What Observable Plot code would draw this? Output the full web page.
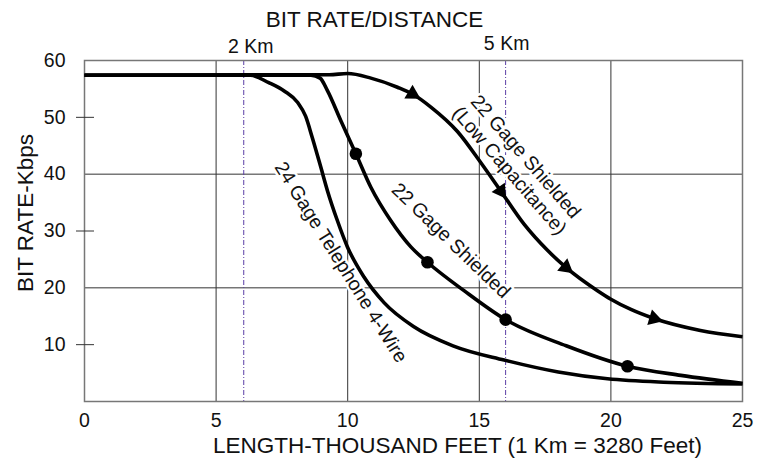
<!DOCTYPE html>
<html>
<head>
<meta charset="utf-8">
<script src="https://cdn.jsdelivr.net/npm/d3@7"></script>
<script src="https://cdn.jsdelivr.net/npm/@observablehq/plot@0.6"></script>
<style>
  html, body { margin: 0; padding: 0; background: white; }
</style>
</head>
<body>
<div id="chart"></div>
<script>
// ---- data ----
const xTicks = [0, 5, 10, 15, 20, 25];
const yTicks = [10, 20, 30, 40, 50, 60];
const yShortTicks = [10, 30, 50];
const gridXValues = [5, 10, 15, 20];
const gridYValues = [20, 40];
const kmLines = [6.05, 16.0];          // 2 Km and 5 Km markers (as drawn)

// 24 Gage Telephone 4-Wire
const telephoneX = [0, 6.3, 7.0, 7.6, 8.1, 8.4, 8.65, 8.98, 9.23, 9.61, 9.99, 10.62, 11.38, 12.5, 14.0, 15.94, 18.0, 19.87, 22.0, 25.0];
const telephoneY = [57.4, 57.4, 56.1, 54.6, 52.6, 50.2, 46.5, 41.2, 37.1, 31.8, 27.2, 21.9, 17.4, 13.2, 9.8, 7.3, 5.2, 4.0, 3.4, 3.1];

// 22 Gage Shielded
const shieldedX = [0, 8.6, 8.95, 9.23, 9.74, 10.31, 10.88, 11.64, 12.4, 13.03, 14.42, 16.0, 18.3, 20.63, 22.66, 25.0];
const shieldedY = [57.4, 57.4, 56.9, 54.7, 49.4, 43.6, 37.7, 31.8, 27.2, 24.5, 19.5, 14.4, 9.8, 6.2, 4.6, 3.2];
const shieldedDotX = [10.31, 13.03, 16.0, 20.63];
const shieldedDotY = [43.6, 24.5, 14.4, 6.2];

// 22 Gage Shielded (Low Capacitance)
const lowCapX = [0, 9.3, 10.0, 10.88, 11.89, 12.46, 13.16, 14.17, 15.06, 15.82, 16.7, 17.59, 18.29, 19.49, 20.0, 20.76, 21.64, 23.4, 25.0];
const lowCapY = [57.4, 57.5, 57.7, 56.9, 55.3, 54.1, 51.8, 47.5, 42.0, 37.0, 31.2, 26.6, 23.6, 19.5, 18.0, 16.2, 14.6, 12.5, 11.4];
const lowCapArrowX = [12.46, 15.82, 18.29, 21.64];
const lowCapArrowY = [54.1, 37.0, 23.6, 14.6];

const curveLabels = [
  {text: "24 Gage Telephone 4-Wire", x: 9.74, y: 24.5},
  {text: "22 Gage Shielded", x: 13.92, y: 28.3},
  {text: "22 Gage Shielded\n(Low Capacitance)", x: 16.47, y: 41.9}
];

// ---- layout ----
const W = 757, H = 459;
const mL = 84, mR = 15, mT = 60, mB = 58;
const font = "'Liberation Sans', Arial, Helvetica, sans-serif";
const purple = "#5b3ea6";

const toRows = (xs, ys) => xs.map((x, i) => ({x, y: ys[i]}));
const telephone = toRows(telephoneX, telephoneY);
const shielded = toRows(shieldedX, shieldedY);
const lowCap = toRows(lowCapX, lowCapY);
const dots = toRows(shieldedDotX, shieldedDotY);

// arrow orientation from local slope of the curve
const kx = (W - mL - mR) / 25, ky = (H - mT - mB) / 60;
function slopeAt(rows, x) {
  for (let i = 1; i < rows.length; i++) {
    if (rows[i].x >= x) {
      const a = rows[Math.max(0, i - 1)], b = rows[Math.min(rows.length - 1, i + 1)];
      return (b.y - a.y) / (b.x - a.x);
    }
  }
  return 0;
}
const arrows = toRows(lowCapArrowX, lowCapArrowY).map(d => {
  const s = slopeAt(lowCap, d.x);
  return {...d, angle: Math.atan2(kx, ky * s) * 180 / Math.PI};
});

const lineStyle = {x: "x", y: "y", stroke: "black", strokeWidth: 3.6, curve: "monotone-x", strokeLinejoin: "round", strokeLinecap: "butt"};
const halo = {fill: "#111", stroke: "white", strokeWidth: 5, paintOrder: "stroke", fontSize: 19.5, textAnchor: "middle", lineAnchor: "middle"};
const plain = {fill: "#111", textAnchor: "middle", lineAnchor: "middle"};

const chart = Plot.plot({
  width: W, height: H,
  marginLeft: mL, marginRight: mR, marginTop: mT, marginBottom: mB,
  style: {fontFamily: font, fontSize: "19.5px", color: "#111", background: "white", overflow: "visible"},
  x: {domain: [0, 25]},
  y: {domain: [0, 60]},
  marks: [
    Plot.gridX(gridXValues, {stroke: "#333", strokeOpacity: 1, strokeWidth: 1}),
    Plot.gridY(gridYValues, {stroke: "#333", strokeOpacity: 1, strokeWidth: 1}),
    Plot.ruleX(kmLines, {stroke: purple, strokeWidth: 1, strokeDasharray: "5,2,1,2"}),
    Plot.frame({stroke: "#777", strokeWidth: 1.5}),
    Plot.axisY({ticks: yShortTicks, tickSize: 18, dx: 10, tickFormat: () => "", label: null, stroke: "#333"}),
    Plot.axisY({ticks: yTicks, tickSize: 0, tickPadding: 19, label: null, fontSize: 19.5}),
    Plot.axisX({ticks: xTicks, tickSize: 0, tickPadding: 12, label: null, fontSize: 19.5}),
    // curve labels with white halos
    Plot.text([curveLabels[0]], {x: "x", y: "y", text: "text", rotate: 58, ...halo}),
    Plot.text([curveLabels[1]], {x: "x", y: "y", text: "text", rotate: 44, ...halo}),
    Plot.text([curveLabels[2]], {x: "x", y: "y", text: "text", rotate: 49, lineHeight: 1.1, ...halo}),
    // curves
    Plot.line(telephone, lineStyle),
    Plot.line(shielded, lineStyle),
    Plot.line(lowCap, lineStyle),
    Plot.dot(dots, {x: "x", y: "y", r: 6.3, fill: "black", stroke: "none"}),
    Plot.dot(arrows, {x: "x", y: "y", symbol: "triangle", r: 6, rotate: "angle", fill: "black", stroke: "none"}),
    // km labels
    Plot.text(["2 Km"], {x: [kmLines[0]], text: d => d, frameAnchor: "top", dy: -14, dx: 7, fontSize: 19.5, ...plain}),
    Plot.text(["5 Km"], {x: [kmLines[1]], text: d => d, frameAnchor: "top", dy: -17, dx: 1, fontSize: 19.5, ...plain}),
    // titles
    Plot.text(["BIT RATE/DISTANCE"], {frameAnchor: "top", dy: -41, dx: -39, fontSize: 22.5, ...plain}),
    Plot.text(["LENGTH-THOUSAND FEET (1 Km = 3280 Feet)"], {frameAnchor: "bottom", dy: 44, dx: 44, fontSize: 22.5, ...plain}),
    Plot.text(["BIT RATE-Kbps"], {frameAnchor: "left", dx: -59, dy: -18, rotate: -90, fontSize: 22.5, ...plain})
  ]
});
document.getElementById("chart").appendChild(chart);
</script>
</body>
</html>
